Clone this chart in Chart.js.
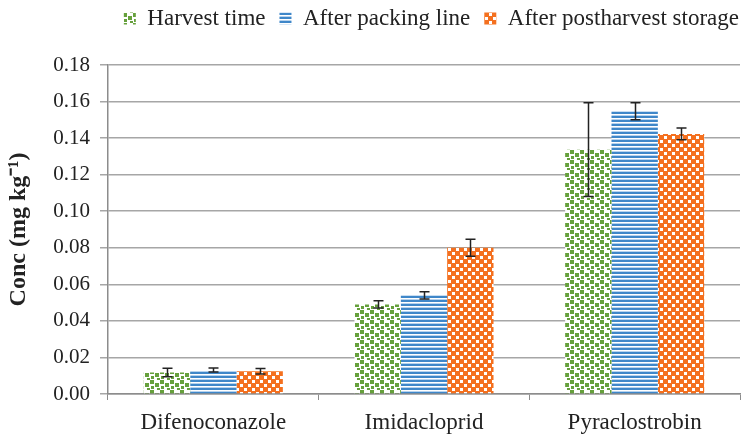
<!DOCTYPE html>
<html>
<head>
<meta charset="utf-8">
<script src="https://cdn.jsdelivr.net/npm/chart.js@4/dist/chart.umd.min.js"></script>
<style>
  html, body { margin: 0; padding: 0; background: #fff; }
  canvas { display: block; }
</style>
</head>
<body>
<canvas id="concChart" width="741" height="439"></canvas>
<script>
/* Chart data */
var categories = ['Difenoconazole', 'Imidacloprid', 'Pyraclostrobin'];
var seriesNames = ['Harvest time', 'After packing line', 'After postharvest storage'];

var harvestTime = [0.0118, 0.049, 0.1337];
var afterPacking = [0.0131, 0.054, 0.1547];
var afterStorage = [0.0125, 0.080, 0.1423];

var harvestErr = [0.0023, 0.0020, 0.0257];
var packingErr = [0.0011, 0.0020, 0.0046];
var storageErr = [0.0015, 0.0047, 0.0032];

var yTickLabels = ['0.00', '0.02', '0.04', '0.06', '0.08', '0.10', '0.12', '0.14', '0.16', '0.18'];

var FONT = "'Liberation Serif', serif";

/* Fill patterns, Excel style */
function makePattern(w, h, draw) {
    var c = document.createElement('canvas');
    c.width = w;
    c.height = h;
    var g = c.getContext('2d');
    g.fillStyle = '#ffffff';
    g.fillRect(0, 0, w, h);
    draw(g);
    return document.getElementById('concChart').getContext('2d').createPattern(c, 'repeat');
}

var greenDots = makePattern(10, 10, function(g) {
    g.fillStyle = '#66a03c';
    g.fillRect(0, 0, 4, 4);
    g.fillRect(5, 3, 4, 4);
    g.fillRect(1, 6, 3, 3);
    g.fillRect(7, 8, 3, 2);
});

var blueStripes = makePattern(4, 4, function(g) {
    g.fillStyle = '#3f87c9';
    g.fillRect(0, 0, 4, 2);
    g.fillStyle = '#b7d3ee';
    g.fillRect(0, 3, 4, 1);
});

var orangeChecks = makePattern(8, 8, function(g) {
    g.fillStyle = '#f4701f';
    g.fillRect(0, 0, 8, 8);
    g.fillStyle = '#ffffff';
    g.fillRect(0, 0, 3, 3);
    g.fillRect(4, 4, 3, 3);
});

/* Error bar plugin */
var errorBars = {
    id: 'errorBars',
    afterDatasetsDraw: function(chart) {
        var ctx = chart.ctx;
        var yScale = chart.scales.y;
        ctx.save();
        ctx.strokeStyle = '#222222';
        ctx.lineWidth = 1.5;
        chart.data.datasets.forEach(function(ds, di) {
            var meta = chart.getDatasetMeta(di);
            meta.data.forEach(function(bar, i) {
                var v = ds.data[i];
                var e = ds.errors[i];
                var yTop = yScale.getPixelForValue(v + e);
                var yBot = yScale.getPixelForValue(v - e);
                var x = Math.round(bar.x) + 0.5;
                ctx.beginPath();
                ctx.moveTo(x, yTop);
                ctx.lineTo(x, yBot);
                ctx.moveTo(x - 5, yTop);
                ctx.lineTo(x + 5, yTop);
                ctx.moveTo(x - 5, yBot);
                ctx.lineTo(x + 5, yBot);
                ctx.stroke();
            });
        });
        ctx.restore();
    }
};

/* extra room under the legend, and nudge it up/right like the original */
var legendTweak = {
    id: 'legendTweak',
    beforeInit: function(chart) {
        var legend = chart.legend;
        var fit = legend.fit;
        legend.fit = function() {
            fit.bind(legend)();
            this.height += 18;
        };
        var draw = legend.draw;
        legend.draw = function() {
            var c = chart.ctx;
            c.save();
            c.translate(13, -7);
            draw.apply(legend, arguments);
            c.restore();
        };
    }
};

var ctx = document.getElementById('concChart').getContext('2d');

new Chart(ctx, {
    type: 'bar',
    data: {
        labels: categories,
        datasets: [{
            label: seriesNames[0],
            data: harvestTime,
            errors: harvestErr,
            backgroundColor: greenDots
        }, {
            label: seriesNames[1],
            data: afterPacking,
            errors: packingErr,
            backgroundColor: blueStripes
        }, {
            label: seriesNames[2],
            data: afterStorage,
            errors: storageErr,
            backgroundColor: orangeChecks
        }]
    },
    options: {
        responsive: false,
        animation: false,
        categoryPercentage: 0.66,
        barPercentage: 1,
        layout: {
            padding: { left: 0, right: 1, top: 0, bottom: 0 }
        },
        plugins: {
            legend: {
                position: 'top',
                align: 'end',
                labels: {
                    font: { family: FONT, size: 23 },
                    color: '#222222',
                    boxWidth: 12,
                    boxHeight: 12,
                    padding: 14,
                    useBorderRadius: false
                }
            },
            tooltip: { enabled: false }
        },
        scales: {
            x: {
                afterFit: function(scale) { scale.height = 45; },
                grid: {
                    offset: true,
                    drawOnChartArea: false,
                    drawTicks: true,
                    tickLength: 6,
                    color: '#8c8c8c'
                },
                border: { color: '#8c8c8c', width: 1.5 },
                ticks: {
                    font: { family: FONT, size: 23 },
                    color: '#222222',
                    padding: 9
                }
            },
            y: {
                min: 0,
                max: 0.18,
                afterFit: function(scale) { scale.width = 108; },
                ticks: {
                    stepSize: 0.02,
                    font: { family: FONT, size: 21 },
                    color: '#222222',
                    padding: 10,
                    callback: function(value, index) { return yTickLabels[index]; }
                },
                grid: {
                    color: '#a6a6a6',
                    lineWidth: 1.5,
                    tickLength: 8
                },
                border: { color: '#8c8c8c', width: 1.5 },
                title: {
                    display: true,
                    text: 'Conc (mg kg\u207B\u00B9)',
                    font: { family: FONT, size: 24, weight: 'bold' },
                    color: '#222222',
                    padding: { top: 4, bottom: 0 }
                }
            }
        }
    },
    plugins: [errorBars, legendTweak]
});
</script>
</body>
</html>
